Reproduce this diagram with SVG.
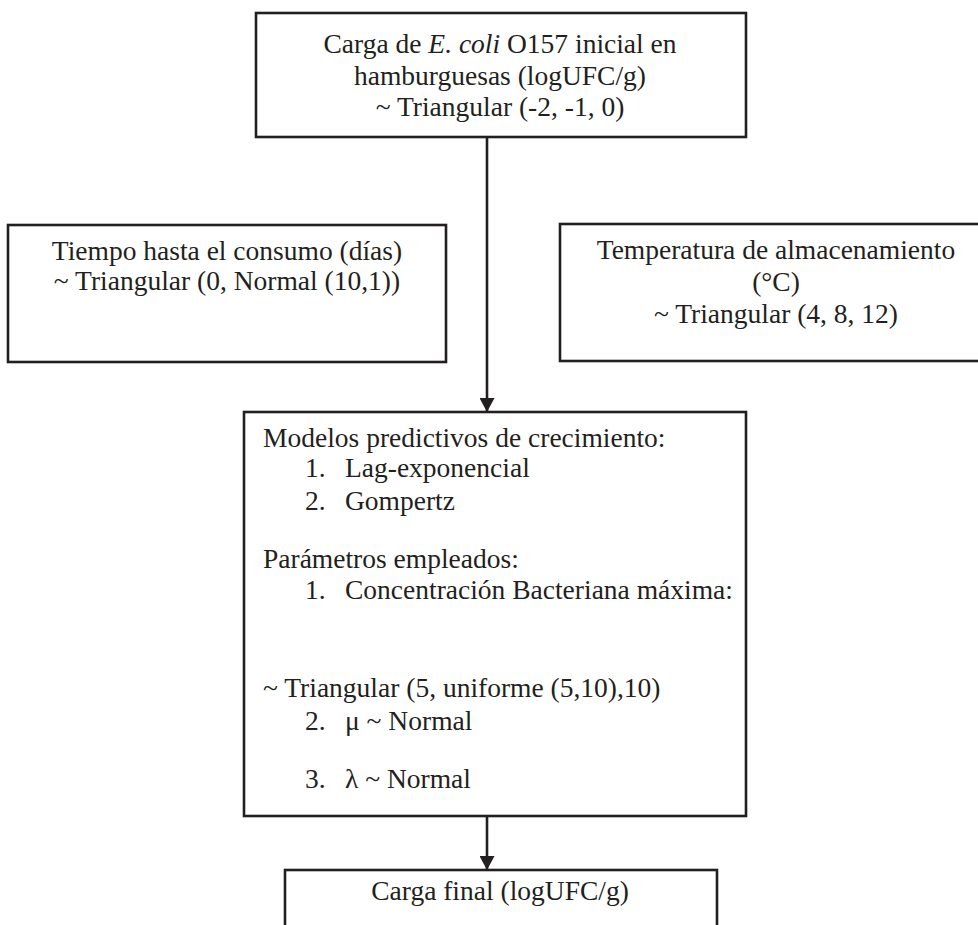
<svg xmlns="http://www.w3.org/2000/svg" width="978" height="925" viewBox="0 0 978 925">
<defs>
<marker id="ah" viewBox="0 0 14 15" refX="14" refY="7.5" markerWidth="14" markerHeight="15" markerUnits="userSpaceOnUse" orient="auto">
<path d="M0,0 L14,7.5 L0,15 Z" fill="#231f20"/>
</marker>
<style>
.box{fill:#fff;stroke:#231f20;stroke-width:2.6}
.t{font-family:"Liberation Serif","Times New Roman",serif;font-size:27.5px;fill:#231f20}
.c{text-anchor:middle}
.edge{stroke:#231f20;stroke-width:2.6;fill:none}
</style>
</defs>
<rect width="978" height="925" fill="#fff"/>
<g id="connectors">
<line class="edge" x1="487" y1="137" x2="487" y2="412" marker-end="url(#ah)"/>
<line class="edge" x1="487" y1="816" x2="487" y2="870" marker-end="url(#ah)"/>
</g>
<g id="n_inicial">
<rect class="box" x="256" y="13" width="490" height="124"/>
<text class="t c" x="500" y="53">Carga de <tspan font-style="italic">E. coli</tspan> O157 inicial en</text>
<text class="t c" x="500" y="85">hamburguesas (logUFC/g)</text>
<text class="t c" x="500" y="116">~ Triangular (-2, -1, 0)</text>
</g>
<g id="n_tiempo">
<rect class="box" x="8" y="225" width="438" height="137"/>
<text class="t c" x="227" y="260">Tiempo hasta el consumo (días)</text>
<text class="t c" x="227" y="290">~ Triangular (0, Normal (10,1))</text>
</g>
<g id="n_temp">
<rect class="box" x="560" y="224" width="440" height="137"/>
<text class="t c" x="776" y="259">Temperatura de almacenamiento</text>
<text class="t c" x="776" y="291">(°C)</text>
<text class="t c" x="776" y="323">~ Triangular (4, 8, 12)</text>
</g>
<g id="n_modelos">
<rect class="box" x="244" y="412" width="502" height="404"/>
<text class="t" x="263" y="447">Modelos predictivos de crecimiento:</text>
<text class="t" x="305" y="477">1.</text><text class="t" x="345" y="477">Lag-exponencial</text>
<text class="t" x="305" y="510">2.</text><text class="t" x="345" y="510">Gompertz</text>
<text class="t" x="263" y="568">Parámetros empleados:</text>
<text class="t" x="305" y="599">1.</text><text class="t" x="345" y="599">Concentración Bacteriana máxima:</text>
<text class="t" x="263" y="697">~ Triangular (5, uniforme (5,10),10)</text>
<text class="t" x="305" y="730">2.</text><text class="t" x="345" y="730">μ ~ Normal</text>
<text class="t" x="305" y="788">3.</text><text class="t" x="345" y="788">λ ~ Normal</text>
</g>
<g id="n_final">
<rect class="box" x="285" y="870" width="432" height="80"/>
<text class="t c" x="500" y="900">Carga final (logUFC/g)</text>
</g>
</svg>
